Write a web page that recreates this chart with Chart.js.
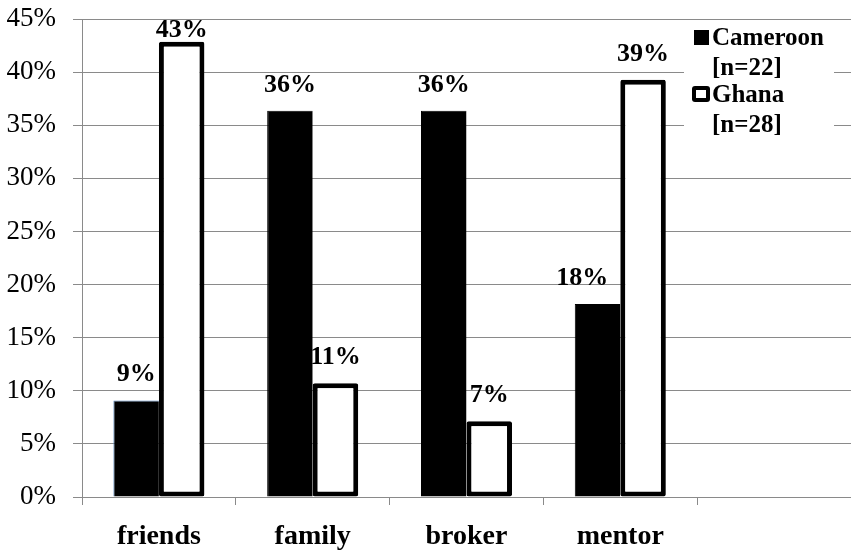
<!DOCTYPE html>
<html>
<head>
<meta charset="utf-8">
<script src="https://cdn.jsdelivr.net/npm/chart.js@4"></script>
<style>
  html, body { margin: 0; padding: 0; background: #fff; }
  #wrap { width: 851px; height: 554px; }
</style>
</head>
<body>
<div id="wrap"><canvas id="chart" width="851" height="554"></canvas></div>
<script>
/* ===== DATA ===== */
const categories = ['friends', 'family', 'broker', 'mentor', ''];
const seriesNames = ['Cameroon', 'Ghana'];
const seriesNotes = ['[n=22]', '[n=28]'];
const cameroon = [9.09, 36.36, 36.36, 18.18, null];
const ghana    = [42.86, 10.71, 7.14, 39.29, null];
const yTicks   = [0, 5, 10, 15, 20, 25, 30, 35, 40, 45];

const SERIF = '"Liberation Serif", "Times New Roman", serif';
const GRID = '#8a8a8a';

/* ===== PLUGINS ===== */
// value labels above each bar, kept inside the plot area
// (a label that would run into the taller bar beside it is pushed left)
const valueLabels = {
  id: 'valueLabels',
  afterDatasetsDraw(chart) {
    const ctx = chart.ctx, top = chart.chartArea.top;
    ctx.save();
    ctx.font = 'bold 26px ' + SERIF;
    ctx.fillStyle = '#000';
    ctx.textAlign = 'center';
    ctx.textBaseline = 'alphabetic';
    const n = chart.data.datasets.length;
    chart.data.datasets.forEach((ds, i) => {
      chart.getDatasetMeta(i).data.forEach((bar, j) => {
        const v = ds.data[j];
        if (v == null) return;
        const txt = Math.round(v) + '%';
        const y = Math.max(bar.y - 19, top + 18);
        let x = bar.x;
        if (i < n - 1) {
          const next = chart.getDatasetMeta(i + 1).data[j];
          const w = ctx.measureText(txt).width;
          const nextLeft = next.x - next.width / 2;
          if (next.y < y && x + w / 2 > nextLeft) x = nextLeft - 12 - w / 2;
        }
        ctx.fillText(txt, x, y);
      });
    });
    ctx.restore();
  }
};

// excel-like legend box in the top right corner
const boxLegend = {
  id: 'boxLegend',
  afterDatasetsDraw(chart) {
    const ctx = chart.ctx, a = chart.chartArea;
    const x0 = a.right - 167, y0 = a.top + 3;
    ctx.save();
    ctx.fillStyle = '#fff';
    ctx.fillRect(x0, y0, 150, 118);
    ctx.font = 'bold 25px ' + SERIF;
    ctx.fillStyle = '#000';
    ctx.textAlign = 'left';
    ctx.textBaseline = 'alphabetic';
    const rows = [{mark: 23, l1: 23, l2: 53}, {mark: 80, l1: 80, l2: 110}];
    seriesNames.forEach((name, i) => {
      const r = rows[i];
      if (i === 0) {
        ctx.fillStyle = '#000';
        ctx.fillRect(x0 + 10, y0 + r.mark - 15, 15, 15);
      } else {
        ctx.fillStyle = '#000';
        ctx.beginPath();
        ctx.roundRect(x0 + 8, y0 + r.mark - 16, 18, 16, 3);
        ctx.fill();
        ctx.fillStyle = '#fff';
        ctx.fillRect(x0 + 12, y0 + r.mark - 12, 10, 8);
      }
      ctx.fillStyle = '#000';
      ctx.fillText(name, x0 + 28, y0 + r.l1);
      ctx.fillText(seriesNotes[i], x0 + 28, y0 + r.l2);
    });
    ctx.restore();
  }
};

/* ===== CHART ===== */
new Chart(document.getElementById('chart'), {
  type: 'bar',
  data: {
    labels: categories,
    datasets: [
      {
        label: seriesNames[0],
        data: cameroon,
        backgroundColor: '#000',
        borderColor: ['#4f81bd', '#000', '#000', '#000', '#000'],
        borderWidth: {left: 1, top: 1, right: 0, bottom: 0},
        borderSkipped: false
      },
      {
        label: seriesNames[1],
        data: ghana,
        backgroundColor: '#fff',
        borderColor: '#000',
        borderWidth: 5,
        borderRadius: 2,
        borderSkipped: false
      }
    ]
  },
  options: {
    responsive: false,
    animation: false,
    layout: {padding: {top: 19, right: 0, left: 0, bottom: 0}},
    datasets: {bar: {barPercentage: 1, categoryPercentage: 0.592}},
    plugins: {legend: {display: false}, tooltip: {enabled: false}},
    scales: {
      x: {
        offset: true,
        grid: {display: true, drawOnChartArea: false, drawTicks: true, tickLength: 8, color: GRID, offset: true},
        border: {display: true, color: GRID, width: 1},
        ticks: {font: {family: SERIF, size: 28, weight: 'bold'}, color: '#000', padding: 15, maxRotation: 0},
        afterFit: s => { s.height = 57; s.paddingLeft = 0; s.paddingRight = 0; }
      },
      y: {
        min: 0, max: 45,
        afterBuildTicks: s => { s.ticks = yTicks.map(v => ({value: v})); },
        grid: {color: GRID, tickLength: 9, lineWidth: 1},
        border: {display: true, color: GRID, width: 1},
        ticks: {
          font: {family: SERIF, size: 27}, color: '#000', padding: 17,
          callback: v => v + '%'
        },
        afterFit: s => { s.width = 82; s.paddingTop = 0; s.paddingBottom = 0; }
      }
    }
  },
  plugins: [valueLabels, boxLegend]
});
</script>
</body>
</html>
